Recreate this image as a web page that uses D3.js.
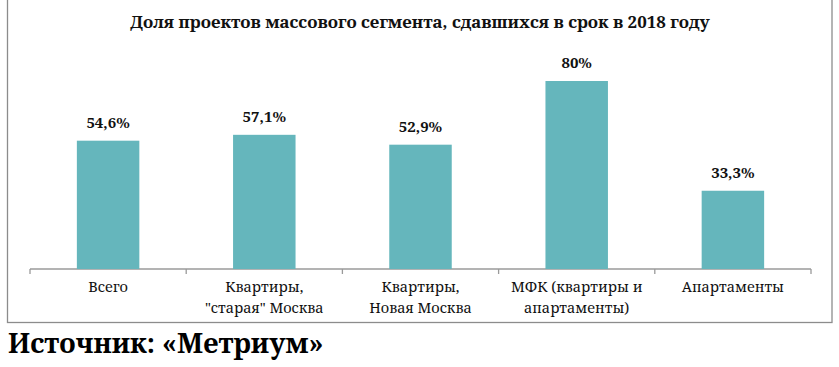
<!DOCTYPE html>
<html><head><meta charset="utf-8">
<script src="https://cdn.jsdelivr.net/npm/d3@7"></script>
</head>
<body style="margin:0;background:#fff">
<script>
const categories = [["Всего"], ["Квартиры,", "\"старая\" Москва"], ["Квартиры,", "Новая Москва"], ["МФК (квартиры и", "апартаменты)"], ["Апартаменты"]];
const values = [54.6, 57.1, 52.9, 80, 33.3];
const valueLabels = ["54,6%", "57,1%", "52,9%", "80%", "33,3%"];
const title = "Доля проектов массового сегмента, сдавшихся в срок в 2018 году";
const source = "Источник: «Метриум»";

const W = 839, H = 367;
const FONT = '"Noto Serif", "DejaVu Serif", serif';
const svg = d3.select("body").append("svg").attr("width", W).attr("height", H).style("display", "block");

// frame
svg.append("rect").attr("x", 7.5).attr("y", -1).attr("width", 824.5).attr("height", 323.5)
  .attr("fill", "none").attr("stroke", "#8c8c8c").attr("stroke-width", 1.3);

const x0 = 30, x1 = 811, yBase = 269;
const ids = d3.range(values.length);
const x = d3.scaleBand().domain(ids).range([x0, x1]).paddingInner(0.6).paddingOuter(0.3);
const y = d3.scaleLinear().domain([0, 100]).range([yBase, yBase - 235]);

svg.append("text").attr("x", 420).attr("y", 28).attr("text-anchor", "middle")
  .style("font-family", FONT).style("font-weight", "bold").style("font-size", "16.9px")
  .attr("fill", "#111").text(title);

// axis
const step = (x1 - x0) / values.length;
const axisG = svg.append("g").attr("transform", `translate(0,${yBase})`);
axisG.append("line").attr("x1", x0).attr("x2", x1).attr("stroke", "#9a9a9a").attr("stroke-width", 1.3);
axisG.selectAll("line.tick").data(d3.range(values.length + 1)).join("line").attr("class", "tick")
  .attr("x1", d => x0 + d * step).attr("x2", d => x0 + d * step)
  .attr("y1", 0).attr("y2", 5).attr("stroke", "#9a9a9a").attr("stroke-width", 1.3);

svg.selectAll("rect.bar").data(values).join("rect").attr("class", "bar")
  .attr("x", (d, i) => x(i)).attr("width", x.bandwidth())
  .attr("y", d => y(d)).attr("height", d => yBase - y(d))
  .attr("fill", "#65b6bc");

svg.selectAll("text.val").data(values).join("text").attr("class", "val")
  .attr("x", (d, i) => x(i) + x.bandwidth() / 2).attr("y", d => y(d) - 13)
  .attr("text-anchor", "middle")
  .style("font-family", FONT).style("font-weight", "bold").style("font-size", "15px")
  .attr("fill", "#111").text((d, i) => valueLabels[i]);

const cat = svg.selectAll("text.cat").data(categories).join("text").attr("class", "cat")
  .attr("text-anchor", "middle").style("font-family", FONT).style("font-size", "14.5px").attr("fill", "#111");
cat.each(function (lines, i) {
  const t = d3.select(this);
  lines.forEach((l, j) => {
    t.append("tspan").attr("x", x(i) + x.bandwidth() / 2).attr("y", 292 + j * 21).text(l);
  });
});

svg.append("text").attr("x", 8).attr("y", 353)
  .style("font-family", FONT).style("font-weight", "bold").style("font-size", "27px")
  .attr("fill", "#000").text(source);
</script>
</body></html>
